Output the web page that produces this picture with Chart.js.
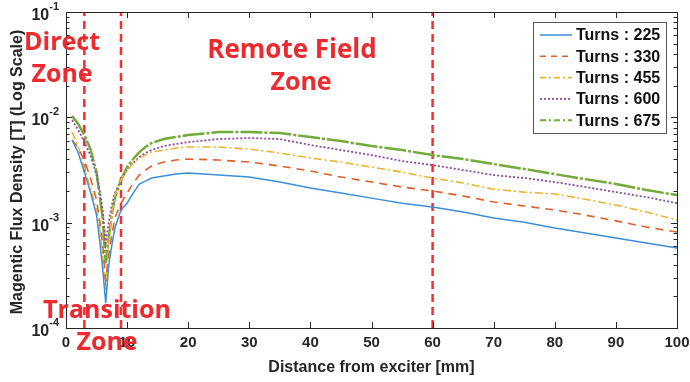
<!DOCTYPE html>
<html><head><meta charset="utf-8">
<script src="https://cdn.jsdelivr.net/npm/chart.js@4/dist/chart.umd.min.js"></script>
<style>html,body{margin:0;padding:0;background:#fff}#wrap{width:690px;height:382px}</style>
</head><body><div id="wrap"><canvas id="c" width="690" height="382"></canvas></div>
<script>
// ---- data ----
const distance = [1,2,3,4,5,5.5,6,6.5,7,7.5,8,9,10,11,12,13,14,16,18,20,25,30,35,40,45,50,55,60,65,70,75,80,85,90,95,100];
const turns225 = [6.09e-3,4.58e-3,3.02e-3,1.95e-3,1.18e-3,6.84e-4,3.70e-4,1.72e-4,3.96e-4,6.1e-4,8.89e-4,1.32e-3,1.53e-3,1.91e-3,2.33e-3,2.48e-3,2.65e-3,2.77e-3,2.89e-3,2.96e-3,2.83e-3,2.71e-3,2.43e-3,2.13e-3,1.91e-3,1.71e-3,1.53e-3,1.41e-3,1.26e-3,1.11e-3,1.01e-3,8.89e-4,7.96e-4,7.14e-4,6.40e-4,5.74e-4];
const turns330 = [6.09e-3,5.11e-3,3.93e-3,2.65e-3,1.64e-3,1.06e-3,6.13e-4,2.85e-4,4.92e-4,7.62e-4,1.11e-3,1.53e-3,1.91e-3,2.38e-3,2.83e-3,3.16e-3,3.45e-3,3.76e-3,3.93e-3,4.02e-3,3.93e-3,3.76e-3,3.45e-3,3.09e-3,2.71e-3,2.43e-3,2.18e-3,2.00e-3,1.79e-3,1.57e-3,1.44e-3,1.32e-3,1.18e-3,1.04e-3,9.08e-4,8.14e-4];
const turns455 = [7.25e-3,5.22e-3,3.30e-3,2.13e-3,1.32e-3,8.89e-4,4.92e-4,2.29e-4,6.13e-4,1.18e-3,1.83e-3,2.54e-3,3.16e-3,3.68e-3,4.11e-3,4.38e-3,4.68e-3,4.89e-3,5.11e-3,5.22e-3,5.22e-3,5.00e-3,4.58e-3,4.11e-3,3.76e-3,3.37e-3,3.02e-3,2.65e-3,2.38e-3,2.08e-3,1.95e-3,1.87e-3,1.67e-3,1.47e-3,1.26e-3,1.06e-3];
const turns600 = [9.43e-3,7.57e-3,5.82e-3,4.38e-3,2.83e-3,2.04e-3,1.32e-3,6.40e-4,1.01e-3,1.47e-3,1.91e-3,2.54e-3,3.16e-3,3.68e-3,4.20e-3,4.58e-3,4.89e-3,5.34e-3,5.58e-3,5.82e-3,6.22e-3,6.36e-3,6.22e-3,5.46e-3,4.89e-3,4.38e-3,3.85e-3,3.52e-3,3.16e-3,2.83e-3,2.65e-3,2.43e-3,2.18e-3,1.95e-3,1.75e-3,1.53e-3];
const turns675 = [1.03e-2,8.64e-3,6.79e-3,5.00e-3,3.02e-3,1.83e-3,1.11e-3,4.13e-4,7.14e-4,1.18e-3,1.71e-3,2.54e-3,3.37e-3,4.02e-3,4.68e-3,5.22e-3,5.70e-3,6.22e-3,6.50e-3,6.79e-3,7.25e-3,7.25e-3,7.09e-3,6.50e-3,5.95e-3,5.34e-3,4.89e-3,4.38e-3,4.02e-3,3.60e-3,3.23e-3,2.89e-3,2.59e-3,2.33e-3,2.04e-3,1.83e-3];
const seriesLabels = ['Turns : 225','Turns : 330','Turns : 455','Turns : 600','Turns : 675'];
const xTicks = [0,10,20,30,40,50,60,70,80,90,100];
const yDecades = [1e-4,1e-3,1e-2,1e-1];
const yTickExponents = ['-4','-3','-2','-1'];
const zoneBoundaries = [3,9,60];
const xTitle = 'Distance from exciter [mm]';
const yTitle = 'Magentic Flux Density [T] (Log Scale)';
const zoneTexts = ['Direct','Zone','Remote Field','Zone','Transition','Zone'];

// ---- styles ----
const styles = [
  {color:'#3d8fd6', dash:[], width:1.5, legendDash:[]},
  {color:'#e0602a', dash:[8,6], width:1.6, legendDash:[6,5]},
  {color:'#ebb433', dash:[8,3,2,3], width:1.6, legendDash:[6,3,2,3]},
  {color:'#8d4a9e', dash:[2,2], width:1.8, legendDash:[2,2]},
  {color:'#72ab38', dash:[22,2,3,2], width:2.5, legendDash:[6,3,2,3]}
];
const seriesValues = [turns225,turns330,turns455,turns600,turns675];
const datasets = seriesValues.map((vals,i)=>({
  label: seriesLabels[i],
  data: distance.map((d,j)=>({x:d,y:vals[j]})),
  borderColor: styles[i].color, borderDash: styles[i].dash, borderWidth: styles[i].width,
  pointRadius:0, fill:false, tension:0
}));
zoneBoundaries.forEach(b=>datasets.push({
  label:'zone', data:[{x:b,y:yDecades[0]},{x:b,y:yDecades[yDecades.length-1]}],
  borderColor:'#ff2b2b', borderDash:[8,5], borderWidth:2.5, pointRadius:0, fill:false
}));

const INK = '#262626';
const decor = {
  id:'decor',
  afterDraw(chart){
    const ctx = chart.ctx, a = chart.chartArea, xs = chart.scales.x, ys = chart.scales.y;
    ctx.save();
    ctx.strokeStyle = INK; ctx.lineWidth = 1;
    ctx.strokeRect(Math.round(a.left)+0.5, Math.round(a.top)+0.5, Math.round(a.right-a.left), Math.round(a.bottom-a.top));
    ctx.beginPath();
    xTicks.forEach(t=>{
      const px = Math.round(xs.getPixelForValue(t))+0.5;
      ctx.moveTo(px,a.bottom); ctx.lineTo(px,a.bottom-6);
      ctx.moveTo(px,a.top); ctx.lineTo(px,a.top+6);
    });
    yDecades.forEach((d,i)=>{
      const py = Math.round(ys.getPixelForValue(d))+0.5;
      ctx.moveTo(a.left,py); ctx.lineTo(a.left+6,py);
      ctx.moveTo(a.right,py); ctx.lineTo(a.right-6,py);
      if(i<yDecades.length-1){
        for(let m=2;m<=9;m++){
          const pm = Math.round(ys.getPixelForValue(d*m))+0.5;
          ctx.moveTo(a.left,pm); ctx.lineTo(a.left+3.5,pm);
          ctx.moveTo(a.right,pm); ctx.lineTo(a.right-3.5,pm);
        }
      }
    });
    ctx.stroke();
    // x tick labels
    ctx.fillStyle = INK; ctx.font = 'bold 15px "Liberation Sans", Arial, sans-serif';
    ctx.textAlign='center'; ctx.textBaseline='middle';
    xTicks.forEach(t=>ctx.fillText(String(t), xs.getPixelForValue(t), a.bottom+15));
    // y tick labels with superscripts
    yDecades.forEach((d,i)=>{
      const py = ys.getPixelForValue(d);
      ctx.font = 'bold 11px "Liberation Sans", Arial, sans-serif';
      const ew = ctx.measureText(yTickExponents[i]).width;
      const right = a.left-7;
      ctx.textAlign='right'; ctx.textBaseline='alphabetic';
      ctx.fillText(yTickExponents[i], right, py-2);
      ctx.font = 'bold 16px "Liberation Sans", Arial, sans-serif';
      ctx.fillText('10', right-ew, py+8);
    });
    // axis titles
    ctx.font = 'bold 16px "Liberation Sans", Arial, sans-serif';
    ctx.textAlign='center'; ctx.textBaseline='middle';
    ctx.fillText(xTitle, (a.left+a.right)/2, a.bottom+40);
    ctx.save(); ctx.translate(18,(a.top+a.bottom)/2+2); ctx.rotate(-Math.PI/2);
    ctx.fillText(yTitle,0,0); ctx.restore();
    // legend
    const lx=533, ly=22, lw=133, lh=111;
    ctx.fillStyle='#fff'; ctx.fillRect(lx,ly,lw,lh);
    ctx.strokeStyle='#555'; ctx.lineWidth=1; ctx.strokeRect(lx+0.5,ly+0.5,lw,lh);
    ctx.font = 'bold 16px "Liberation Sans", Arial, sans-serif';
    ctx.textAlign='left'; ctx.textBaseline='middle';
    seriesLabels.forEach((lab,i)=>{
      const yy = ly+13+i*21.3;
      ctx.strokeStyle=styles[i].color; ctx.lineWidth=Math.min(styles[i].width,2);
      ctx.setLineDash(styles[i].legendDash);
      ctx.beginPath(); ctx.moveTo(540,yy); ctx.lineTo(572,yy); ctx.stroke();
      ctx.setLineDash([]);
      ctx.fillStyle='#111'; ctx.fillText(lab,576,yy+1);
    });
    // zone annotations
    ctx.fillStyle='#ee2a2f';
    ctx.font='bold 25px "Open Sans", "Noto Sans", sans-serif';
    ctx.textAlign='center'; ctx.textBaseline='alphabetic';
    ctx.fillText(zoneTexts[0],62,50);
    ctx.fillText(zoneTexts[1],62,82);
    ctx.fillText(zoneTexts[3],301,90);
    ctx.fillText(zoneTexts[4],107,318);
    ctx.fillText(zoneTexts[5],107,350);
    ctx.font='bold 26px "Open Sans", "Noto Sans", sans-serif';
    ctx.fillText(zoneTexts[2],292,58);
    ctx.restore();
  }
};

new Chart(document.getElementById('c'),{
  type:'line',
  data:{datasets},
  options:{
    responsive:false, animation:false, devicePixelRatio:1,
    layout:{padding:{left:66,right:13,top:12,bottom:54}},
    plugins:{legend:{display:false},tooltip:{enabled:false}},
    scales:{
      x:{type:'linear',min:0,max:100,display:false},
      y:{type:'logarithmic',min:1e-4,max:1e-1,display:false}
    }
  },
  plugins:[decor]
});
</script></body></html>
